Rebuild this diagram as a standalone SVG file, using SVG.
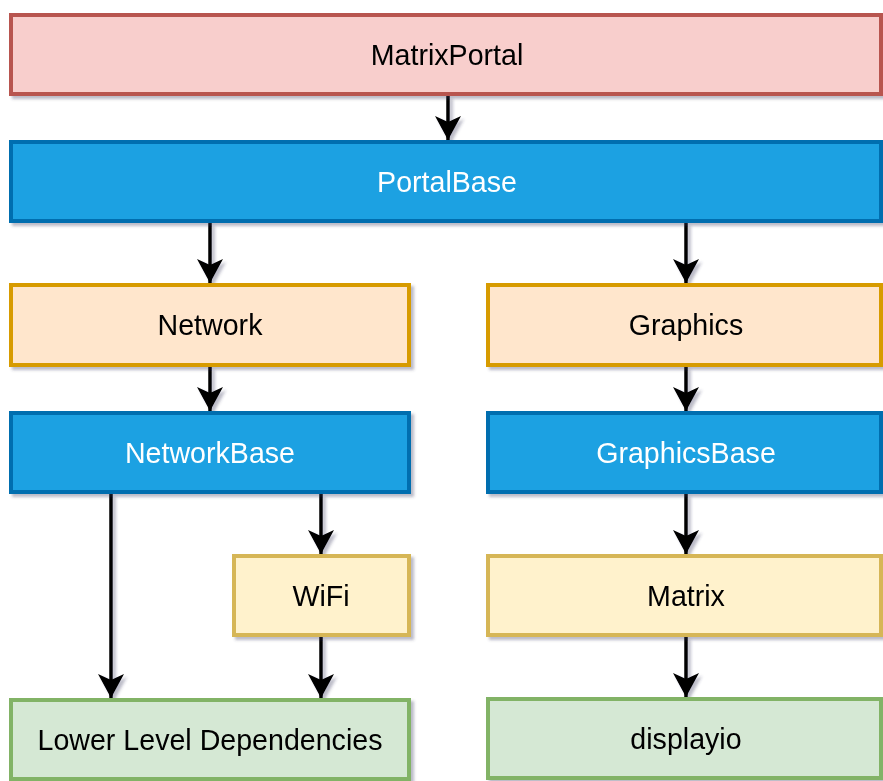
<svg xmlns="http://www.w3.org/2000/svg" width="883" height="781" viewBox="0 0 883 781">
<defs>
<filter id="sh" x="-5%" y="-20%" width="115%" height="150%">
<feDropShadow dx="3" dy="3" stdDeviation="1.5" flood-color="#3c3c60" flood-opacity="0.35"/>
</filter>
<marker id="ah" markerUnits="userSpaceOnUse" markerWidth="26" markerHeight="26" viewBox="0 0 26 26" refX="24" refY="13" orient="auto">
<path d="M0,0 L24,13 L0,26 L6,13 Z" fill="#000"/>
</marker>
<style>
text{font-family:"Liberation Sans",Arial,Helvetica,sans-serif;font-size:28.6px;text-anchor:middle;fill:#000}
.red{fill:#f8cecc;stroke:#b85450;stroke-width:4}
.blue{fill:#1ba1e2;stroke:#006eaf;stroke-width:4}
.orange{fill:#ffe6cc;stroke:#d79b00;stroke-width:4}
.yellow{fill:#fff2cc;stroke:#d6b656;stroke-width:4}
.green{fill:#d5e8d4;stroke:#82b366;stroke-width:4}
.w{fill:#fff}
.c{stroke:#000;stroke-width:3.5;fill:none;marker-end:url(#ah)}
</style>
</defs>
<rect width="883" height="781" fill="#fff"/>
<g id="connectors" filter="url(#sh)">
<line class="c" x1="448" y1="96" x2="448" y2="140"/>
<line class="c" x1="210" y1="223" x2="210" y2="283"/>
<line class="c" x1="686" y1="223" x2="686" y2="283"/>
<line class="c" x1="210" y1="367" x2="210" y2="411"/>
<line class="c" x1="686" y1="367" x2="686" y2="411"/>
<line class="c" x1="111" y1="494" x2="111" y2="698"/>
<line class="c" x1="321" y1="494" x2="321" y2="554"/>
<line class="c" x1="321" y1="637" x2="321" y2="698"/>
<line class="c" x1="686" y1="494" x2="686" y2="554"/>
<line class="c" x1="686" y1="637" x2="686" y2="697"/>
</g>
<g id="matrixportal" filter="url(#sh)">
<rect class="red" x="11" y="15" width="870" height="79"/>
<text x="447" y="65">MatrixPortal</text>
</g>
<g id="portalbase" filter="url(#sh)">
<rect class="blue" x="11" y="142" width="870" height="79"/>
<text class="w" x="447" y="192">PortalBase</text>
</g>
<g id="network" filter="url(#sh)">
<rect class="orange" x="11" y="285" width="398" height="80"/>
<text x="210" y="335">Network</text>
</g>
<g id="graphics" filter="url(#sh)">
<rect class="orange" x="488" y="285" width="393" height="80"/>
<text x="686" y="335">Graphics</text>
</g>
<g id="networkbase" filter="url(#sh)">
<rect class="blue" x="11" y="413" width="398" height="79"/>
<text class="w" x="210" y="463">NetworkBase</text>
</g>
<g id="graphicsbase" filter="url(#sh)">
<rect class="blue" x="488" y="413" width="393" height="79"/>
<text class="w" x="686" y="463">GraphicsBase</text>
</g>
<g id="wifi" filter="url(#sh)">
<rect class="yellow" x="234" y="556" width="175" height="79"/>
<text x="321" y="606">WiFi</text>
</g>
<g id="matrix" filter="url(#sh)">
<rect class="yellow" x="488" y="556" width="393" height="79"/>
<text x="686" y="606">Matrix</text>
</g>
<g id="lowerlevel" filter="url(#sh)">
<rect class="green" x="11" y="700" width="398" height="79"/>
<text x="210" y="750">Lower Level Dependencies</text>
</g>
<g id="displayio" filter="url(#sh)">
<rect class="green" x="488" y="699" width="393" height="79"/>
<text x="686" y="749">displayio</text>
</g>
</svg>
